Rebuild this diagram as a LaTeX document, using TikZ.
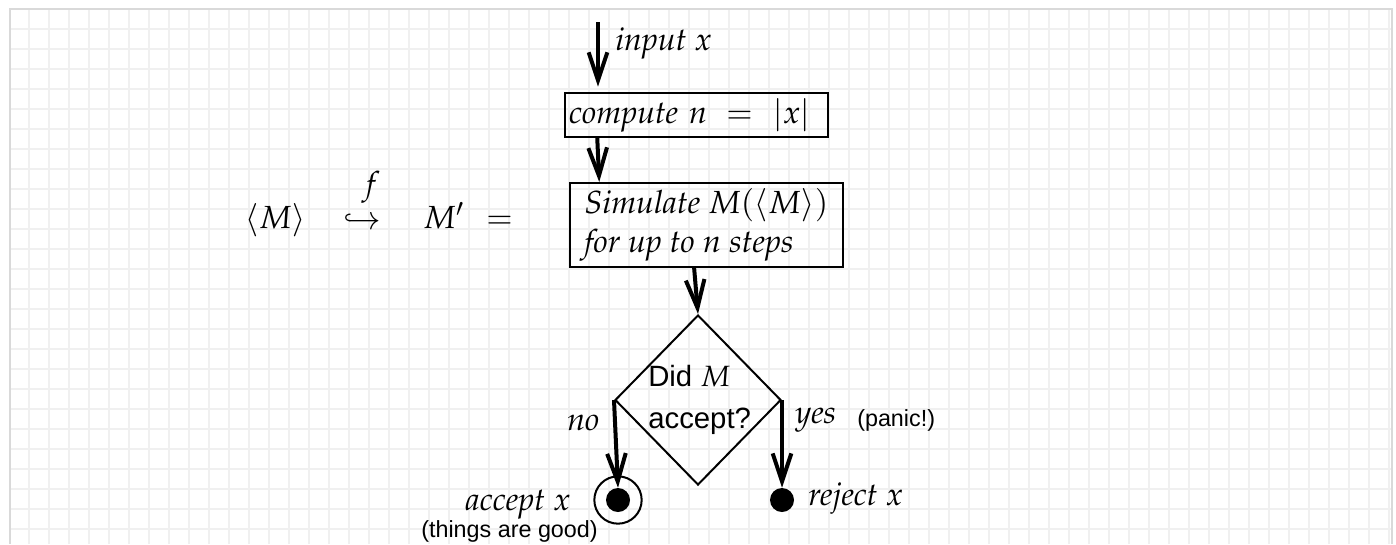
\documentclass[tikz,border=0pt]{standalone}
\usepackage{mathpazo}
\usepackage[T1]{fontenc}
\usepackage[no-math]{fontspec}
\setsansfont{Liberation Sans}
\usetikzlibrary{arrows.meta,shapes.geometric,positioning,calc}
\newcommand{\pit}{\fontencoding{T1}\fontfamily{ppl}\fontseries{m}\fontshape{it}\selectfont}

\begin{document}
\begin{tikzpicture}[x=0.75pt, y=-0.75pt,
    every node/.style={font=\fontsize{24}{29}\selectfont\pit, inner sep=0pt},
    box/.style={draw, line width=1.5pt, align=left},
    flow/.style={line width=3pt, -{Straight Barb[length=21pt, width=14pt]}},
    decision/.style={diamond, draw, line width=1.5pt, inner sep=0pt, minimum width=124.5pt, minimum height=127.5pt},
    sans/.style={font=\sffamily\fontsize{22}{31}\selectfont, align=left},
    remark/.style={font=\sffamily\fontsize{17.5}{21}\selectfont},
    dot/.style={circle, fill, inner sep=0pt, minimum size=18pt},
    ring/.style={circle, draw, line width=1.5pt, inner sep=0pt, minimum size=35.5pt},
    gridline/.style={black!6, line width=1.5pt}]
    \useasboundingbox (0,0) rectangle (1396,544);
    \fill[white] (0,0) rectangle (1396,544);
    % paper grid
    \foreach \gx in {29,49,...,1389} \draw[gridline] (\gx,9) -- (\gx,544);
    \foreach \gy in {29,49,...,529} \draw[gridline] (10,\gy) -- (1392,\gy);
    \draw[black!15, line width=1pt] (10,544) -- (10,9) -- (1392,9) -- (1392,544);

    % the reduction
    \node[anchor=base west] (encM) at (245,228) {$\langle M\rangle$};
    \node (hook) at (362,222) {$\hookrightarrow$};
    \node (flab) at (371,187) {$f$};
    \node[anchor=base west] (Mp) at (423,228) {$M'$};
    \node[anchor=base west] (eqs) at (486,228) {$=$};

    % the machine M'
    \coordinate (start) at (598,22);
    \node[anchor=base west] (inlab) at (615,50) {input $x$};
    \node[box, minimum height=33pt, inner xsep=3pt, text width=191pt] (comp) at (696.5,115) {\mbox{compute $n$\hspace{14pt}$=$\hspace{15pt}$|x|$}};
    \node[box, inner xsep=11pt, minimum width=204.75pt, minimum height=63pt] (sim) at (706.5,225) {Simulate $M(\langle M\rangle)$\\for up to $n$ steps};
    \node[decision] (dec) at (698,400) {};
    \node[sans, anchor=west] (ask) at (648,400) {Did $M$\\accept?};

    \node[dot] (acc) at (618,500) {};
    \node[ring] (accring) at (acc) {};
    \node[dot] (rej) at (782,500) {};

    \node[anchor=base west] (nolab) at (567,430) {no};
    \node[anchor=base west] (yeslab) at (795,423) {yes};
    \node[remark, anchor=base west] (panic) at (857,426) {(panic!)};
    \node[anchor=base east] (acclab) at (571,510) {accept $x$};
    \node[remark, anchor=base east] (good) at (598,537) {(things are good)};
    \node[anchor=base west] (rejlab) at (808,505) {reject $x$};

    \draw[flow, shorten >=4pt] (start) -- (start |- comp.north);
    \draw[flow] ($(comp.south west)!0.125!(comp.south east)$) -- ($(sim.north west)!0.11!(sim.north east)$);
    \draw[flow] ($(sim.south west)!0.455!(sim.south east)$) -- (dec.north);
    \draw[flow] (dec.west) -- (acc.north);
    \draw[flow] (dec.east) -- (rej.north);
\end{tikzpicture}
\end{document}
